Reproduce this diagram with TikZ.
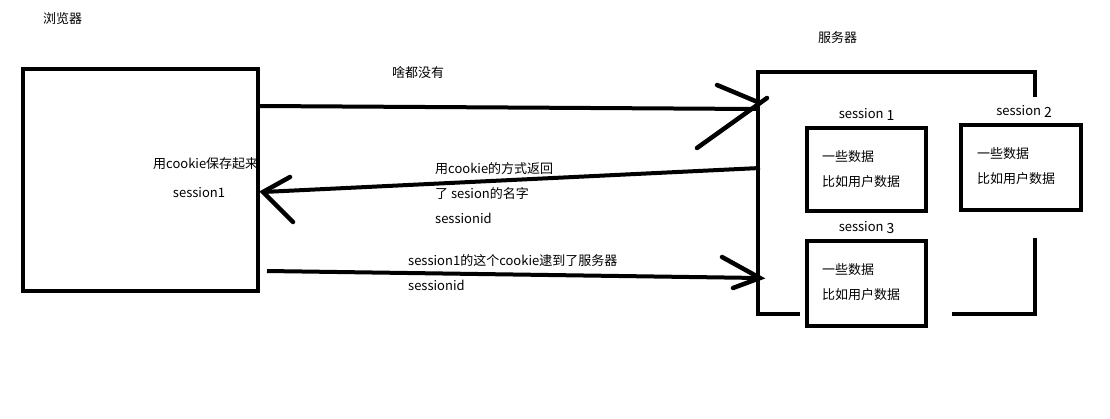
\documentclass[tikz,border=0pt]{standalone}
\usepackage{fontspec}
\setmainfont{Noto Sans CJK SC}
\usetikzlibrary{positioning,calc}
\newcommand{\sessnum}[1]{{\fontsize{14}{15}\selectfont\raisebox{-2pt}{#1}}}

\begin{document}
\begin{tikzpicture}[
    x=1pt, y=-1pt,
    every node/.style={font=\fontsize{13}{15}\selectfont, inner sep=0pt},
    box/.style={rectangle, draw, line width=4.5pt, outer sep=0pt},
    frame/.style={line width=4.5pt},
    arrow/.style={line width=4pt},
    barb/.style={line width=4.5pt, line cap=round},
    txt/.style={anchor=west}
]
    \useasboundingbox (0,0) rectangle (1110,418);

    % browser
    \node[box, minimum width=235pt, minimum height=222pt] (browser) at (140.5,180) {};
    \node[txt] (browserlab) at (43,19) {浏览器};
    \node[txt] (saved) at (153,164) {用cookie保存起来};
    \node (savedid) at (199,193) {session1};

    % server
    \node[txt] (serverlab) at (818,38) {服务器};
    \draw[frame] (1035,97) -- (1035,72) -- (758,72) -- (758,314) -- (800,314);
    \draw[frame] (952,314) -- (1035,314) -- (1035,238);

    \node[box, minimum width=119pt, minimum height=83pt] (sess1) at (866.5,169.5) {};
    \node[box, minimum width=120pt, minimum height=85pt] (sess2) at (1021,167.5) {};
    \node[box, minimum width=119pt, minimum height=85pt] (sess3) at (866.5,283.5) {};

    \node[above=7pt of sess1] (sess1lab) {session \sessnum{1}};
    \node[above=7pt of sess2, xshift=3pt] (sess2lab) {session \sessnum{2}};
    \node[above=7pt of sess3] (sess3lab) {session \sessnum{3}};

    \node[txt] (data1) at ($(sess1.north west)+(15,29)$) {一些数据};
    \node[txt] (user1) at ($(sess1.north west)+(15,53.5)$) {比如用户数据};
    \node[txt] (data2) at ($(sess2.north west)+(16,29)$) {一些数据};
    \node[txt] (user2) at ($(sess2.north west)+(16,54)$) {比如用户数据};
    \node[txt] (data3) at ($(sess3.north west)+(15,29)$) {一些数据};
    \node[txt] (user3) at ($(sess3.north west)+(15,53.5)$) {比如用户数据};

    % request with nothing
    \coordinate (reqA) at (260,106);
    \coordinate (reqB) at (757,109);
    \draw[arrow] (reqA) -- (reqB);
    \draw[barb] (reqB) ++(-40,-24) -- ++(43,18);
    \draw[barb] (reqB) ++(-60,39) -- ++(70,-50);
    \node[txt] (nothing) at (392,73) {啥都没有};

    % cookie returned
    \coordinate (retA) at (760,168);
    \coordinate (retB) at (263,192);
    \draw[arrow] (retA) -- (retB);
    \draw[barb] (retB) ++(27,-15) -- (retB) -- ++(30,30);
    \node[txt] (ret1) at (435,168.5) {用cookie的方式返回};
    \node[txt] (ret2) at (435,194) {了 sesion的名字};
    \node[txt] (ret3) at (435,218) {sessionid};

    % cookie sent back
    \coordinate (cookA) at (267,271);
    \coordinate (cookB) at (760,278);
    \draw[arrow] (cookA) -- (cookB);
    \draw[barb] (cookB) ++(-38,-21) -- (cookB) -- ++(-27,10);
    \node[txt] (back1) at (408,260.5) {session1的这个cookie逮到了服务器};
    \node[txt] (back2) at (408,285.5) {sessionid};
\end{tikzpicture}
\end{document}
